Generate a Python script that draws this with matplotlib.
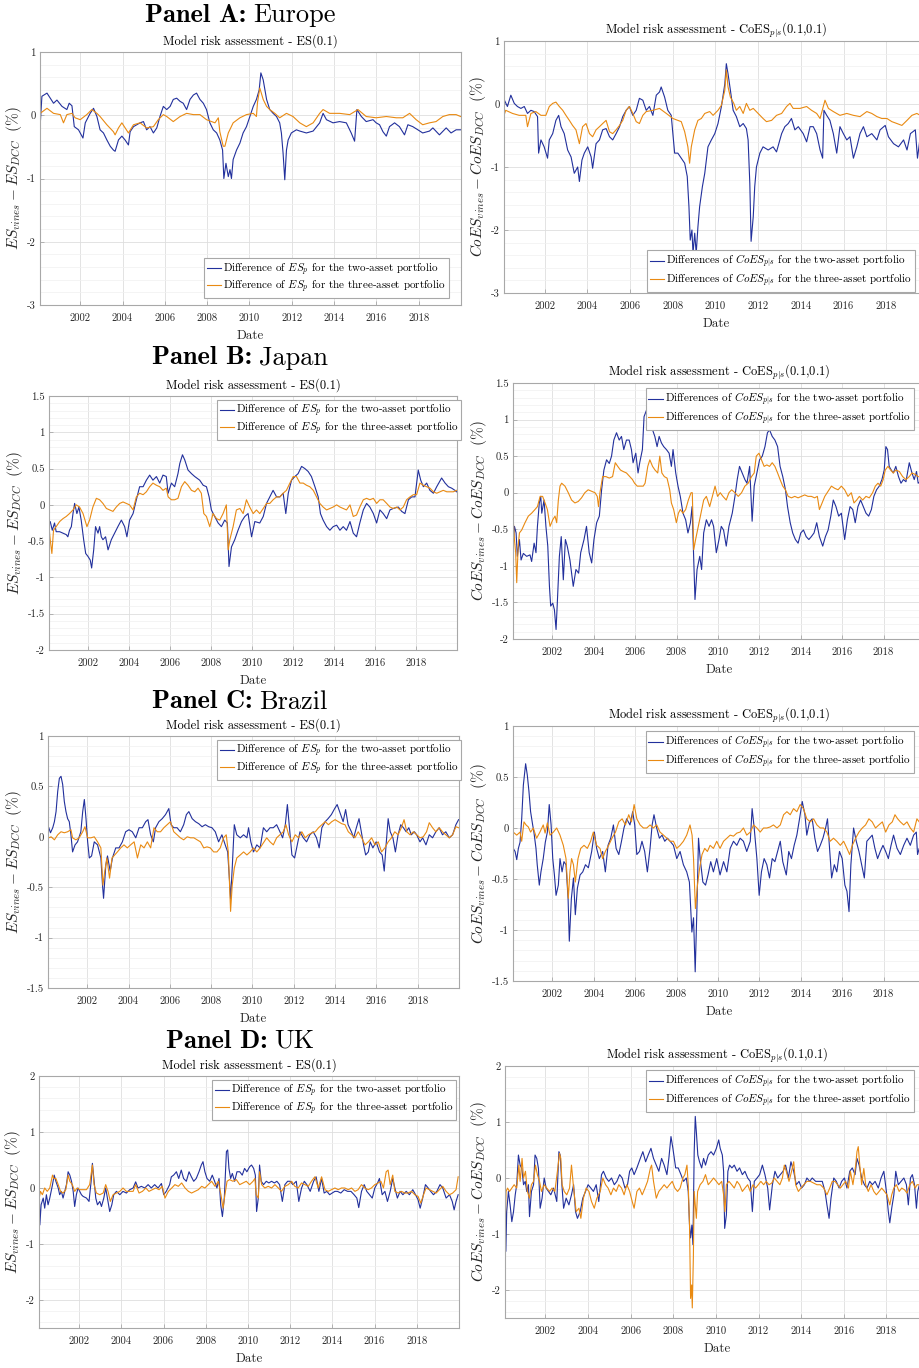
import numpy as np
import matplotlib.pyplot as plt
from matplotlib.ticker import FixedLocator, MultipleLocator, FuncFormatter

# Differences vines - DCC, (decimal year, %)
eu_es_two = [(2000.11, -0.15), (2000.19, 0.30), (2000.43, 0.35), (2000.74, 0.19), (2000.90, 0.24), (2001.14, 0.14),
             (2001.37, 0.09), (2001.48, 0.19), (2001.61, 0.15), (2001.72, -0.18), (2001.92, -0.23), (2002.13, -0.36),
             (2002.24, -0.12), (2002.47, 0.03), (2002.63, 0.11), (2002.79, -0.02), (2002.94, -0.23), (2003.10, -0.28),
             (2003.26, -0.39), (2003.42, -0.49), (2003.57, -0.55), (2003.65, -0.57), (2003.81, -0.39), (2003.97, -0.33),
             (2004.12, -0.39), (2004.28, -0.47), (2004.36, -0.26), (2004.52, -0.18), (2004.83, -0.12), (2004.99, -0.10),
             (2005.14, -0.23), (2005.30, -0.18), (2005.46, -0.28), (2005.62, -0.20), (2005.77, -0.02), (2005.93, 0.14),
             (2006.09, 0.09), (2006.25, 0.14), (2006.40, 0.25), (2006.56, 0.27), (2006.72, 0.22), (2006.87, 0.19),
             (2007.03, 0.09), (2007.19, 0.25), (2007.35, 0.32), (2007.50, 0.35), (2007.66, 0.25), (2007.82, 0.19),
             (2007.97, 0.09), (2008.13, -0.12), (2008.29, -0.23), (2008.45, -0.28), (2008.60, -0.39), (2008.73, -0.55),
             (2008.79, -1.00), (2008.89, -0.76), (2009.00, -0.97), (2009.08, -0.86), (2009.15, -1.00), (2009.23, -0.70),
             (2009.39, -0.55), (2009.55, -0.44), (2009.70, -0.28), (2009.86, -0.18), (2010.02, -0.02), (2010.18, 0.14),
             (2010.33, 0.25), (2010.46, 0.40), (2010.54, 0.67), (2010.65, 0.56), (2010.81, 0.25), (2010.96, 0.09),
             (2011.12, 0.03), (2011.28, -0.02), (2011.43, -0.12), (2011.51, -0.28), (2011.59, -0.60), (2011.67, -1.02),
             (2011.75, -0.55), (2011.83, -0.39), (2011.98, -0.28), (2012.22, -0.23), (2012.38, -0.25), (2012.69, -0.28),
             (2013.01, -0.25), (2013.32, -0.12), (2013.48, 0.03), (2013.64, -0.07), (2013.95, -0.12), (2014.26, -0.10),
             (2014.58, -0.12), (2014.81, -0.28), (2014.97, -0.41), (2015.08, 0.09), (2015.29, -0.02), (2015.52, -0.10),
             (2015.84, -0.07), (2015.99, -0.12), (2016.15, -0.15), (2016.31, -0.26), (2016.47, -0.33), (2016.62, -0.18),
             (2016.86, -0.12), (2017.09, -0.18), (2017.33, -0.31), (2017.49, -0.15), (2017.72, -0.18), (2017.96, -0.23),
             (2018.19, -0.28), (2018.51, -0.25), (2018.67, -0.20), (2018.98, -0.31), (2019.30, -0.20), (2019.53, -0.28),
             (2019.77, -0.23), (2019.98, -0.23)]
eu_es_three = [(2000.11, 0.03), (2000.43, 0.11), (2000.74, 0.03), (2001.06, 0.01), (2001.21, -0.12), (2001.37, 0.01),
               (2001.61, 0.03), (2001.76, -0.04), (2002.00, -0.07), (2002.31, 0.01), (2002.55, 0.09), (2002.79, 0.03),
               (2002.94, -0.02), (2003.26, -0.15), (2003.57, -0.26), (2003.65, -0.31), (2003.81, -0.20), (2003.97, -0.12),
               (2004.28, -0.28), (2004.52, -0.15), (2004.83, -0.12), (2005.14, -0.20), (2005.46, -0.18), (2005.69, -0.07),
               (2005.93, 0.01), (2006.09, -0.02), (2006.40, -0.10), (2006.72, -0.02), (2007.03, 0.03), (2007.35, 0.01),
               (2007.66, 0.01), (2007.97, -0.07), (2008.21, -0.10), (2008.37, -0.12), (2008.53, -0.04), (2008.60, -0.26),
               (2008.76, -0.49), (2008.84, -0.49), (2009.00, -0.28), (2009.23, -0.12), (2009.55, -0.04), (2009.86, 0.01),
               (2010.18, 0.03), (2010.33, -0.02), (2010.38, 0.20), (2010.49, 0.43), (2010.65, 0.25), (2010.81, 0.14),
               (2010.96, 0.09), (2011.20, 0.03), (2011.43, -0.04), (2011.75, 0.03), (2012.06, -0.02), (2012.38, -0.12),
               (2012.69, -0.18), (2013.01, -0.12), (2013.32, 0.03), (2013.48, 0.09), (2013.79, 0.03), (2014.26, 0.03),
               (2014.74, 0.01), (2015.13, 0.09), (2015.52, -0.02), (2015.99, -0.04), (2016.47, -0.02), (2016.94, -0.04),
               (2017.25, -0.04), (2017.57, 0.03), (2017.88, -0.07), (2018.19, -0.15), (2018.51, -0.12), (2018.82, -0.10),
               (2019.14, -0.02), (2019.45, 0.01), (2019.77, 0.01), (2019.98, -0.02)]
eu_coes_two = [(2000.08, -0.68), (2000.12, 0.06), (2000.26, -0.04), (2000.42, 0.14), (2000.58, 0.01), (2000.73, -0.04),
               (2000.89, -0.07), (2001.05, -0.04), (2001.20, -0.15), (2001.36, -0.10), (2001.51, -0.12), (2001.67, -0.20),
               (2001.72, -0.78), (2001.83, -0.57), (2001.98, -0.68), (2002.14, -0.86), (2002.22, -0.57), (2002.38, -0.47),
               (2002.53, -0.26), (2002.66, -0.18), (2002.77, -0.36), (2002.92, -0.47), (2003.08, -0.73), (2003.24, -0.84),
               (2003.39, -1.10), (2003.55, -1.00), (2003.63, -1.23), (2003.75, -0.89), (2003.86, -0.78), (2004.02, -0.68),
               (2004.18, -0.84), (2004.25, -1.02), (2004.41, -0.63), (2004.57, -0.57), (2004.72, -0.41), (2004.88, -0.39),
               (2005.04, -0.52), (2005.19, -0.57), (2005.35, -0.47), (2005.51, -0.36), (2005.66, -0.20), (2005.82, -0.10),
               (2005.97, -0.04), (2006.13, -0.18), (2006.29, -0.10), (2006.44, 0.09), (2006.60, 0.06), (2006.76, -0.10),
               (2006.91, -0.04), (2007.07, -0.18), (2007.23, 0.14), (2007.38, 0.19), (2007.46, 0.27), (2007.62, 0.11),
               (2007.77, -0.10), (2007.93, -0.18), (2008.09, -0.78), (2008.24, -0.78), (2008.40, -0.86), (2008.56, -0.94),
               (2008.68, -1.15), (2008.76, -1.63), (2008.82, -2.16), (2008.90, -2.00), (2008.95, -2.37), (2009.03, -2.05),
               (2009.10, -2.37), (2009.18, -1.95), (2009.26, -1.63), (2009.39, -1.31), (2009.50, -1.10), (2009.65, -0.68),
               (2009.81, -0.57), (2009.97, -0.47), (2010.12, -0.31), (2010.28, -0.04), (2010.44, 0.32), (2010.51, 0.64),
               (2010.59, 0.48), (2010.70, 0.22), (2010.83, -0.10), (2010.98, -0.20), (2011.14, -0.36), (2011.30, -0.31),
               (2011.45, -0.39), (2011.53, -0.57), (2011.61, -1.26), (2011.67, -2.18), (2011.77, -1.79), (2011.84, -1.31),
               (2011.92, -1.00), (2012.08, -0.78), (2012.23, -0.68), (2012.47, -0.73), (2012.70, -0.68), (2012.86, -0.76),
               (2013.10, -0.47), (2013.25, -0.36), (2013.41, -0.31), (2013.56, -0.23), (2013.72, -0.41), (2013.88, -0.36),
               (2014.11, -0.47), (2014.27, -0.60), (2014.43, -0.36), (2014.58, -0.36), (2014.74, -0.47), (2014.90, -0.73),
               (2015.02, -0.86), (2015.08, -0.10), (2015.21, -0.18), (2015.36, -0.26), (2015.52, -0.47), (2015.68, -0.78),
               (2015.83, -0.36), (2015.99, -0.47), (2016.15, -0.57), (2016.30, -0.52), (2016.46, -0.86), (2016.62, -0.68),
               (2016.77, -0.47), (2016.93, -0.36), (2017.09, -0.52), (2017.32, -0.47), (2017.56, -0.57), (2017.71, -0.41),
               (2017.95, -0.34), (2018.10, -0.52), (2018.34, -0.63), (2018.57, -0.68), (2018.81, -0.57), (2018.97, -0.73),
               (2019.13, -0.47), (2019.36, -0.41), (2019.46, -0.86), (2019.59, -0.52), (2019.98, -0.50)]
eu_coes_three = [(2000.08, -0.20), (2000.18, -0.10), (2000.50, -0.15), (2000.81, -0.18), (2001.12, -0.18), (2001.20, -0.36),
                 (2001.36, -0.15), (2001.59, -0.12), (2001.83, -0.18), (2002.06, -0.18), (2002.22, -0.04), (2002.38, 0.01),
                 (2002.53, 0.03), (2002.69, -0.04), (2002.85, -0.10), (2003.00, -0.18), (2003.16, -0.26), (2003.31, -0.34),
                 (2003.47, -0.41), (2003.63, -0.63), (2003.78, -0.36), (2003.94, -0.31), (2004.10, -0.47), (2004.25, -0.52),
                 (2004.41, -0.41), (2004.57, -0.36), (2004.72, -0.31), (2004.88, -0.26), (2005.04, -0.44), (2005.19, -0.47),
                 (2005.35, -0.41), (2005.51, -0.34), (2005.66, -0.26), (2005.82, -0.10), (2005.97, -0.04), (2006.13, -0.15),
                 (2006.29, -0.28), (2006.44, -0.31), (2006.60, -0.18), (2006.76, -0.12), (2007.07, -0.10), (2007.38, -0.07),
                 (2007.70, -0.15), (2008.01, -0.23), (2008.24, -0.26), (2008.40, -0.28), (2008.56, -0.44), (2008.71, -0.68),
                 (2008.79, -0.94), (2008.87, -0.68), (2009.03, -0.41), (2009.18, -0.26), (2009.34, -0.23), (2009.50, -0.15),
                 (2009.73, -0.12), (2009.89, -0.18), (2010.12, -0.10), (2010.28, -0.02), (2010.44, 0.22), (2010.51, 0.54),
                 (2010.59, 0.27), (2010.70, 0.11), (2010.86, 0.01), (2010.98, -0.10), (2011.14, -0.04), (2011.30, -0.15),
                 (2011.45, 0.01), (2011.61, -0.10), (2011.77, -0.07), (2012.00, -0.15), (2012.23, -0.23), (2012.39, -0.28),
                 (2012.63, -0.26), (2012.86, -0.18), (2013.10, -0.15), (2013.33, -0.04), (2013.49, 0.01), (2013.64, -0.07),
                 (2013.96, -0.07), (2014.27, -0.04), (2014.50, -0.10), (2014.74, -0.15), (2014.90, -0.23), (2015.13, 0.06),
                 (2015.29, -0.07), (2015.52, -0.12), (2015.83, -0.18), (2016.15, -0.15), (2016.46, -0.18), (2016.77, -0.20),
                 (2017.09, -0.12), (2017.32, -0.15), (2017.56, -0.20), (2017.79, -0.23), (2018.03, -0.23), (2018.26, -0.28),
                 (2018.50, -0.31), (2018.73, -0.34), (2018.97, -0.26), (2019.20, -0.18), (2019.43, -0.15), (2019.59, -0.18),
                 (2019.98, -0.15)]

jp_es_two = [(2000.10, -0.25), (2000.16, -0.23), (2000.26, -0.35), (2000.37, -0.25), (2000.45, -0.37), (2000.62, -0.37),
             (2000.78, -0.39), (2000.94, -0.41), (2001.02, -0.44), (2001.10, -0.35), (2001.19, -0.30), (2001.27, -0.12),
             (2001.35, 0.02), (2001.46, -0.12), (2001.56, -0.03), (2001.67, -0.21), (2001.79, -0.48), (2001.89, -0.67),
             (2002.00, -0.71), (2002.11, -0.76), (2002.18, -0.87), (2002.28, -0.62), (2002.37, -0.30), (2002.49, -0.39),
             (2002.57, -0.30), (2002.65, -0.44), (2002.73, -0.48), (2002.86, -0.44), (2002.98, -0.62), (2003.14, -0.48),
             (2003.30, -0.39), (2003.46, -0.30), (2003.63, -0.21), (2003.79, -0.30), (2003.90, -0.44), (2004.03, -0.21),
             (2004.20, -0.12), (2004.36, 0.07), (2004.52, 0.25), (2004.69, 0.25), (2004.85, 0.34), (2005.01, 0.41),
             (2005.17, 0.34), (2005.34, 0.39), (2005.50, 0.30), (2005.66, 0.41), (2005.82, 0.39), (2005.91, 0.16),
             (2006.07, 0.30), (2006.23, 0.25), (2006.39, 0.43), (2006.48, 0.57), (2006.61, 0.69), (2006.72, 0.62),
             (2006.88, 0.48), (2007.05, 0.43), (2007.21, 0.39), (2007.45, 0.34), (2007.62, 0.27), (2007.78, 0.25),
             (2007.91, 0.11), (2008.02, -0.07), (2008.18, -0.16), (2008.35, -0.25), (2008.51, -0.30), (2008.67, -0.21),
             (2008.80, -0.25), (2008.88, -0.85), (2009.00, -0.58), (2009.16, -0.48), (2009.32, -0.35), (2009.49, -0.23),
             (2009.65, -0.16), (2009.81, -0.12), (2009.98, -0.44), (2010.14, -0.23), (2010.38, -0.25), (2010.55, -0.16),
             (2010.71, 0.02), (2010.87, 0.11), (2011.03, 0.20), (2011.20, 0.11), (2011.36, 0.11), (2011.52, 0.16),
             (2011.65, -0.12), (2011.77, 0.16), (2011.93, 0.34), (2012.09, 0.39), (2012.25, 0.43), (2012.42, 0.53),
             (2012.58, 0.50), (2012.74, 0.46), (2012.90, 0.39), (2013.07, 0.25), (2013.23, 0.11), (2013.34, -0.12),
             (2013.47, -0.21), (2013.64, -0.30), (2013.80, -0.35), (2013.96, -0.30), (2014.13, -0.28), (2014.29, -0.35),
             (2014.45, -0.30), (2014.61, -0.35), (2014.78, -0.23), (2014.94, -0.39), (2015.10, -0.44), (2015.26, -0.25),
             (2015.43, -0.07), (2015.59, 0.02), (2015.75, -0.03), (2015.92, -0.12), (2016.08, -0.25), (2016.24, -0.07),
             (2016.40, -0.12), (2016.57, -0.19), (2016.73, -0.07), (2016.89, -0.05), (2017.14, -0.03), (2017.30, -0.09),
             (2017.46, -0.12), (2017.63, 0.07), (2017.79, 0.11), (2017.95, 0.11), (2018.11, 0.48), (2018.23, 0.34),
             (2018.36, 0.25), (2018.52, 0.30), (2018.68, 0.20), (2018.85, 0.16), (2019.01, 0.25), (2019.25, 0.37),
             (2019.42, 0.30), (2019.58, 0.25), (2019.74, 0.23), (2019.90, 0.20), (2019.98, 0.18)]
jp_es_three = [(2000.10, -0.30), (2000.16, -0.48), (2000.24, -0.67), (2000.32, -0.35), (2000.45, -0.30), (2000.62, -0.23),
               (2000.78, -0.19), (2000.94, -0.16), (2001.10, -0.12), (2001.27, -0.07), (2001.43, 0.00), (2001.59, -0.03),
               (2001.76, -0.12), (2001.95, -0.30), (2002.08, -0.21), (2002.24, -0.03), (2002.41, 0.09), (2002.57, 0.07),
               (2002.73, 0.02), (2002.90, -0.05), (2003.06, -0.07), (2003.22, -0.09), (2003.38, -0.03), (2003.55, 0.02),
               (2003.71, 0.04), (2003.87, 0.02), (2004.03, 0.00), (2004.20, -0.07), (2004.36, 0.11), (2004.52, 0.16),
               (2004.69, 0.14), (2004.85, 0.18), (2005.01, 0.25), (2005.17, 0.30), (2005.34, 0.27), (2005.50, 0.25),
               (2005.66, 0.20), (2005.82, 0.23), (2005.91, 0.11), (2006.07, 0.07), (2006.23, 0.07), (2006.39, 0.09),
               (2006.56, 0.25), (2006.72, 0.32), (2006.88, 0.27), (2007.05, 0.20), (2007.21, 0.18), (2007.37, 0.23),
               (2007.53, 0.16), (2007.65, -0.12), (2007.78, -0.16), (2007.94, -0.30), (2008.10, -0.12), (2008.27, -0.19),
               (2008.43, -0.21), (2008.59, -0.12), (2008.75, 0.00), (2008.84, -0.62), (2008.92, -0.48), (2009.08, -0.30),
               (2009.24, -0.07), (2009.41, -0.05), (2009.57, -0.12), (2009.73, 0.07), (2009.89, -0.03), (2010.06, -0.12),
               (2010.22, -0.07), (2010.38, -0.12), (2010.55, -0.05), (2010.71, 0.02), (2010.87, 0.02), (2011.03, 0.07),
               (2011.20, 0.11), (2011.36, 0.11), (2011.52, 0.16), (2011.68, 0.20), (2011.85, 0.30), (2012.01, 0.39),
               (2012.17, 0.39), (2012.34, 0.30), (2012.50, 0.30), (2012.66, 0.27), (2012.82, 0.25), (2012.99, 0.20),
               (2013.15, 0.11), (2013.31, 0.02), (2013.47, -0.03), (2013.64, -0.07), (2013.80, -0.05), (2013.96, -0.03),
               (2014.13, 0.00), (2014.29, -0.03), (2014.45, -0.05), (2014.61, -0.07), (2014.78, 0.00), (2014.94, -0.16),
               (2015.10, -0.14), (2015.26, -0.03), (2015.43, 0.07), (2015.59, 0.09), (2015.75, 0.07), (2015.92, 0.09),
               (2016.08, 0.02), (2016.24, 0.07), (2016.40, 0.07), (2016.57, 0.02), (2016.73, -0.03), (2016.89, -0.05),
               (2017.06, -0.03), (2017.22, -0.07), (2017.38, -0.03), (2017.54, 0.07), (2017.71, 0.11), (2017.87, 0.14),
               (2018.03, 0.14), (2018.19, 0.30), (2018.36, 0.27), (2018.52, 0.25), (2018.68, 0.23), (2018.85, 0.18),
               (2019.01, 0.16), (2019.17, 0.18), (2019.33, 0.20), (2019.50, 0.18), (2019.66, 0.18), (2019.82, 0.18),
               (2019.98, 0.20)]
jp_coes_two = [(2000.12, -0.64), (2000.17, -0.46), (2000.25, -0.55), (2000.31, -0.87), (2000.41, -0.64), (2000.49, -0.92),
               (2000.60, -0.83), (2000.76, -0.87), (2000.92, -0.85), (2001.00, -0.94), (2001.12, -0.69), (2001.21, -0.82),
               (2001.28, -0.46), (2001.37, -0.14), (2001.44, -0.05), (2001.49, -0.28), (2001.60, -0.10), (2001.69, -0.46),
               (2001.78, -0.73), (2001.86, -1.28), (2001.92, -1.55), (2002.02, -1.51), (2002.10, -1.60), (2002.18, -1.87),
               (2002.24, -1.51), (2002.34, -0.87), (2002.43, -0.60), (2002.53, -1.19), (2002.63, -0.64), (2002.72, -0.73),
               (2002.85, -0.92), (2003.01, -1.28), (2003.14, -1.05), (2003.27, -1.10), (2003.37, -0.82), (2003.53, -0.64),
               (2003.65, -0.46), (2003.78, -0.82), (2003.90, -0.96), (2004.01, -0.64), (2004.14, -0.41), (2004.27, -0.32),
               (2004.38, 0.04), (2004.49, 0.31), (2004.62, 0.45), (2004.75, 0.40), (2004.86, 0.50), (2004.97, 0.72),
               (2005.10, 0.82), (2005.23, 0.72), (2005.34, 0.77), (2005.45, 0.59), (2005.58, 0.72), (2005.71, 0.72),
               (2005.82, 0.59), (2005.90, 0.41), (2006.03, 0.54), (2006.14, 0.27), (2006.22, 0.41), (2006.35, 0.59),
               (2006.43, 1.04), (2006.55, 1.13), (2006.64, 1.27), (2006.74, 1.18), (2006.84, 0.86), (2006.95, 0.77),
               (2007.06, 0.63), (2007.16, 0.77), (2007.27, 0.68), (2007.38, 0.63), (2007.51, 0.59), (2007.64, 0.54),
               (2007.75, 0.36), (2007.83, 0.59), (2007.96, 0.27), (2008.07, 0.09), (2008.18, -0.05), (2008.31, -0.28),
               (2008.44, -0.37), (2008.55, -0.55), (2008.67, -0.41), (2008.75, -0.19), (2008.83, -0.92), (2008.89, -1.46),
               (2008.99, -1.05), (2009.12, -0.87), (2009.21, -1.05), (2009.31, -0.55), (2009.44, -0.37), (2009.57, -0.46),
               (2009.69, -0.37), (2009.79, -0.46), (2009.92, -0.82), (2010.05, -0.64), (2010.16, -0.46), (2010.27, -0.51),
               (2010.40, -0.73), (2010.53, -0.46), (2010.69, -0.28), (2010.82, -0.05), (2010.93, 0.18), (2011.04, 0.36),
               (2011.17, 0.27), (2011.30, 0.18), (2011.40, 0.13), (2011.53, 0.36), (2011.65, -0.39), (2011.75, 0.09),
               (2011.88, 0.27), (2012.01, 0.45), (2012.14, 0.50), (2012.27, 0.63), (2012.39, 0.82), (2012.49, 0.86),
               (2012.62, 0.77), (2012.75, 0.72), (2012.88, 0.63), (2013.00, 0.36), (2013.13, 0.22), (2013.26, 0.04),
               (2013.36, -0.19), (2013.49, -0.41), (2013.61, -0.55), (2013.74, -0.64), (2013.87, -0.69), (2014.00, -0.55),
               (2014.13, -0.51), (2014.26, -0.60), (2014.39, -0.64), (2014.51, -0.60), (2014.64, -0.55), (2014.77, -0.41),
               (2014.90, -0.60), (2015.06, -0.73), (2015.19, -0.60), (2015.32, -0.51), (2015.45, -0.32), (2015.57, -0.10),
               (2015.70, -0.19), (2015.83, -0.32), (2015.96, -0.28), (2016.12, -0.64), (2016.25, -0.37), (2016.38, -0.19),
               (2016.51, -0.23), (2016.63, -0.41), (2016.76, -0.19), (2016.89, -0.10), (2017.02, -0.19), (2017.15, -0.28),
               (2017.28, -0.32), (2017.41, -0.23), (2017.53, -0.05), (2017.66, 0.04), (2017.79, 0.09), (2017.92, 0.18),
               (2018.03, 0.31), (2018.11, 0.63), (2018.19, 0.59), (2018.27, 0.36), (2018.37, 0.31), (2018.47, 0.27),
               (2018.59, 0.36), (2018.72, 0.22), (2018.84, 0.13), (2018.96, 0.18), (2019.08, 0.15), (2019.24, 0.41),
               (2019.37, 0.27), (2019.48, 0.18), (2019.59, 0.29), (2019.67, 0.13), (2019.98, 0.20)]
jp_coes_three = [(2000.12, -0.41), (2000.17, -0.64), (2000.23, -0.82), (2000.28, -1.23), (2000.35, -0.73), (2000.41, -0.55),
                 (2000.52, -0.51), (2000.68, -0.41), (2000.84, -0.32), (2001.00, -0.28), (2001.16, -0.23), (2001.28, -0.19),
                 (2001.41, -0.05), (2001.53, -0.05), (2001.65, -0.14), (2001.76, -0.23), (2001.89, -0.46), (2002.02, -0.37),
                 (2002.13, -0.32), (2002.21, -0.41), (2002.29, -0.10), (2002.37, 0.09), (2002.45, 0.13), (2002.61, 0.09),
                 (2002.77, 0.00), (2002.93, -0.10), (2003.09, -0.14), (2003.25, -0.12), (2003.41, -0.07), (2003.57, 0.00),
                 (2003.73, 0.04), (2003.90, 0.02), (2004.06, 0.00), (2004.17, -0.05), (2004.23, -0.19), (2004.30, 0.00),
                 (2004.43, 0.22), (2004.59, 0.22), (2004.75, 0.20), (2004.91, 0.22), (2005.04, 0.41), (2005.16, 0.36),
                 (2005.29, 0.31), (2005.42, 0.29), (2005.58, 0.27), (2005.74, 0.22), (2005.87, 0.18), (2005.97, 0.13),
                 (2006.10, 0.09), (2006.22, 0.09), (2006.39, 0.09), (2006.48, 0.13), (2006.61, 0.36), (2006.71, 0.45),
                 (2006.84, 0.36), (2006.96, 0.31), (2007.09, 0.27), (2007.19, 0.50), (2007.29, 0.27), (2007.41, 0.22),
                 (2007.54, 0.20), (2007.67, 0.04), (2007.75, -0.14), (2007.86, -0.23), (2007.99, -0.41), (2008.09, -0.28),
                 (2008.18, -0.23), (2008.31, -0.28), (2008.44, -0.23), (2008.57, -0.10), (2008.70, 0.00), (2008.76, 0.00),
                 (2008.83, -0.78), (2008.92, -0.64), (2009.05, -0.46), (2009.18, -0.28), (2009.31, -0.10), (2009.44, -0.05),
                 (2009.60, -0.19), (2009.73, -0.05), (2009.86, 0.09), (2009.98, -0.05), (2010.11, 0.00), (2010.24, -0.05),
                 (2010.40, -0.10), (2010.53, 0.00), (2010.66, 0.04), (2010.82, 0.00), (2010.98, -0.05), (2011.14, 0.00),
                 (2011.30, 0.09), (2011.46, 0.13), (2011.62, 0.22), (2011.75, 0.27), (2011.85, 0.50), (2011.98, 0.54),
                 (2012.10, 0.45), (2012.23, 0.36), (2012.36, 0.38), (2012.49, 0.36), (2012.62, 0.41), (2012.75, 0.36),
                 (2012.88, 0.27), (2013.00, 0.18), (2013.13, 0.09), (2013.26, 0.04), (2013.39, -0.05), (2013.55, -0.07),
                 (2013.71, -0.05), (2013.87, -0.07), (2014.03, -0.05), (2014.19, -0.03), (2014.35, -0.05), (2014.51, -0.05),
                 (2014.67, -0.07), (2014.80, -0.05), (2014.90, -0.23), (2015.03, -0.14), (2015.16, -0.05), (2015.32, 0.02),
                 (2015.48, 0.09), (2015.64, 0.06), (2015.80, 0.04), (2015.96, 0.09), (2016.12, 0.04), (2016.28, -0.05),
                 (2016.44, 0.00), (2016.57, -0.14), (2016.70, -0.10), (2016.83, -0.05), (2016.99, -0.10), (2017.15, -0.05),
                 (2017.31, -0.07), (2017.47, 0.00), (2017.60, 0.09), (2017.73, 0.13), (2017.86, 0.09), (2017.98, 0.18),
                 (2018.08, 0.31), (2018.21, 0.36), (2018.34, 0.31), (2018.47, 0.27), (2018.59, 0.31), (2018.76, 0.29),
                 (2018.92, 0.22), (2019.08, 0.18), (2019.24, 0.22), (2019.37, 0.27), (2019.53, 0.25), (2019.67, 0.22),
                 (2019.98, 0.20)]

br_es_two = [(2000.14, 0.09), (2000.22, 0.04), (2000.33, 0.09), (2000.41, 0.15), (2000.49, 0.25), (2000.57, 0.45),
             (2000.65, 0.58), (2000.73, 0.60), (2000.81, 0.52), (2000.89, 0.35), (2000.97, 0.25), (2001.05, 0.18),
             (2001.13, 0.15), (2001.21, 0.02), (2001.29, -0.15), (2001.41, -0.08), (2001.53, -0.05), (2001.69, 0.05),
             (2001.78, 0.25), (2001.86, 0.37), (2001.94, 0.18), (2002.02, -0.05), (2002.10, -0.21), (2002.21, -0.19),
             (2002.34, -0.05), (2002.50, -0.08), (2002.66, -0.21), (2002.74, -0.48), (2002.79, -0.61), (2002.90, -0.28),
             (2002.98, -0.19), (2003.11, -0.34), (2003.22, -0.21), (2003.38, -0.11), (2003.54, -0.11), (2003.70, -0.05),
             (2003.86, 0.05), (2004.02, 0.07), (2004.18, 0.05), (2004.35, -0.01), (2004.51, 0.09), (2004.67, 0.09),
             (2004.83, 0.15), (2004.94, 0.17), (2005.07, 0.02), (2005.20, -0.05), (2005.31, 0.09), (2005.47, 0.15),
             (2005.63, 0.18), (2005.79, 0.22), (2005.95, 0.28), (2006.06, 0.12), (2006.19, 0.09), (2006.35, 0.09),
             (2006.51, 0.05), (2006.67, 0.12), (2006.80, 0.22), (2006.92, 0.25), (2007.08, 0.18), (2007.24, 0.15),
             (2007.40, 0.13), (2007.56, 0.10), (2007.72, 0.12), (2007.88, 0.10), (2008.04, 0.09), (2008.20, 0.05),
             (2008.36, -0.05), (2008.52, 0.02), (2008.68, -0.08), (2008.80, -0.15), (2008.89, -0.44), (2008.94, -0.62),
             (2009.02, -0.31), (2009.12, 0.12), (2009.24, 0.02), (2009.41, -0.01), (2009.57, 0.02), (2009.73, -0.01),
             (2009.81, 0.09), (2009.92, -0.05), (2010.05, -0.15), (2010.21, -0.08), (2010.37, -0.11), (2010.53, 0.09),
             (2010.69, 0.05), (2010.85, 0.09), (2011.01, 0.09), (2011.17, 0.12), (2011.33, 0.05), (2011.46, -0.01),
             (2011.59, 0.12), (2011.69, 0.32), (2011.78, 0.12), (2011.91, -0.18), (2012.04, -0.21), (2012.17, -0.08),
             (2012.30, 0.05), (2012.46, -0.01), (2012.62, -0.05), (2012.78, 0.02), (2012.94, 0.05), (2013.10, -0.01),
             (2013.23, -0.11), (2013.36, 0.09), (2013.52, 0.15), (2013.66, 0.18), (2013.82, 0.22), (2013.98, 0.28),
             (2014.10, 0.32), (2014.22, 0.25), (2014.39, 0.15), (2014.51, 0.27), (2014.63, 0.12), (2014.79, 0.05),
             (2014.90, -0.01), (2015.03, 0.09), (2015.16, 0.18), (2015.27, 0.05), (2015.38, -0.08), (2015.48, -0.18),
             (2015.61, -0.15), (2015.70, -0.05), (2015.83, -0.11), (2015.99, -0.05), (2016.15, -0.15), (2016.28, -0.18),
             (2016.38, -0.34), (2016.47, -0.08), (2016.57, 0.18), (2016.67, 0.05), (2016.80, -0.01), (2016.92, -0.15),
             (2017.05, 0.02), (2017.18, 0.12), (2017.31, 0.09), (2017.44, 0.05), (2017.57, 0.09), (2017.69, 0.02),
             (2017.84, 0.05), (2017.95, 0.02), (2018.11, -0.05), (2018.24, -0.01), (2018.40, -0.08), (2018.56, 0.02),
             (2018.72, -0.01), (2018.88, 0.05), (2019.04, 0.09), (2019.20, 0.02), (2019.36, 0.05), (2019.53, -0.01),
             (2019.69, 0.02), (2019.85, 0.12), (2019.98, 0.17)]
br_es_three = [(2000.14, -0.01), (2000.25, 0.00), (2000.41, -0.03), (2000.57, 0.02), (2000.73, 0.05), (2000.89, 0.04),
               (2001.05, 0.05), (2001.21, 0.07), (2001.29, -0.01), (2001.45, -0.03), (2001.61, -0.01), (2001.78, 0.05),
               (2001.89, 0.10), (2002.02, -0.01), (2002.18, -0.01), (2002.34, 0.00), (2002.50, -0.05), (2002.66, -0.11),
               (2002.76, -0.48), (2002.85, -0.34), (2002.95, -0.21), (2003.08, -0.41), (2003.20, -0.21), (2003.33, -0.18),
               (2003.46, -0.15), (2003.62, -0.11), (2003.78, -0.08), (2003.94, -0.11), (2004.10, -0.08), (2004.27, -0.05),
               (2004.43, -0.21), (2004.59, -0.08), (2004.75, -0.11), (2004.91, -0.05), (2005.07, -0.11), (2005.23, 0.09),
               (2005.39, 0.05), (2005.55, 0.05), (2005.71, 0.09), (2005.87, 0.12), (2006.03, 0.15), (2006.19, 0.05),
               (2006.35, 0.02), (2006.51, -0.01), (2006.67, -0.03), (2006.84, 0.00), (2007.00, -0.01), (2007.16, -0.01),
               (2007.32, -0.03), (2007.48, -0.05), (2007.64, -0.11), (2007.80, -0.10), (2007.96, -0.11), (2008.12, -0.15),
               (2008.28, -0.15), (2008.44, -0.11), (2008.60, -0.01), (2008.73, 0.02), (2008.83, -0.15), (2008.89, -0.48),
               (2008.94, -0.74), (2009.02, -0.48), (2009.12, -0.31), (2009.24, -0.21), (2009.41, -0.18), (2009.57, -0.15),
               (2009.73, -0.18), (2009.89, -0.15), (2010.05, -0.11), (2010.21, -0.15), (2010.37, -0.11), (2010.53, -0.06),
               (2010.69, -0.01), (2010.85, -0.05), (2011.01, -0.08), (2011.17, -0.01), (2011.33, 0.02), (2011.49, 0.05),
               (2011.62, 0.12), (2011.75, 0.02), (2011.91, -0.05), (2012.07, 0.02), (2012.23, -0.01), (2012.39, 0.05),
               (2012.55, -0.01), (2012.71, 0.02), (2012.88, 0.04), (2013.04, 0.05), (2013.20, 0.09), (2013.36, 0.12),
               (2013.52, 0.15), (2013.68, 0.12), (2013.84, 0.15), (2014.00, 0.17), (2014.16, 0.15), (2014.32, 0.13),
               (2014.48, 0.12), (2014.64, 0.05), (2014.80, 0.02), (2014.96, -0.01), (2015.12, 0.05), (2015.29, -0.01),
               (2015.45, -0.08), (2015.61, -0.05), (2015.77, -0.01), (2015.93, -0.08), (2016.09, -0.05), (2016.25, -0.15),
               (2016.41, -0.11), (2016.57, -0.05), (2016.73, -0.01), (2016.89, 0.05), (2017.05, 0.02), (2017.21, 0.09),
               (2017.34, 0.17), (2017.47, 0.05), (2017.63, 0.02), (2017.79, 0.05), (2017.95, 0.02), (2018.11, -0.01),
               (2018.27, 0.00), (2018.43, 0.05), (2018.56, 0.14), (2018.72, 0.09), (2018.88, 0.05), (2019.04, 0.09),
               (2019.20, 0.05), (2019.36, 0.02), (2019.53, -0.01), (2019.69, 0.02), (2019.85, 0.10), (2019.98, 0.09)]
br_coes_two = [(2000.11, -0.20), (2000.20, -0.23), (2000.28, -0.31), (2000.36, -0.20), (2000.44, -0.14), (2000.52, 0.09),
               (2000.60, 0.42), (2000.71, 0.63), (2000.79, 0.52), (2000.87, 0.36), (2000.95, 0.16), (2001.05, 0.03),
               (2001.11, -0.04), (2001.21, -0.20), (2001.27, -0.36), (2001.37, -0.56), (2001.45, -0.43), (2001.56, -0.30),
               (2001.66, -0.14), (2001.76, -0.04), (2001.85, 0.23), (2001.94, 0.03), (2002.02, -0.30), (2002.10, -0.46),
               (2002.18, -0.66), (2002.29, -0.56), (2002.37, -0.30), (2002.47, -0.43), (2002.56, -0.33), (2002.66, -0.36),
               (2002.76, -0.69), (2002.82, -1.11), (2002.92, -0.69), (2003.02, -0.49), (2003.11, -0.85), (2003.21, -0.59),
               (2003.34, -0.46), (2003.47, -0.43), (2003.60, -0.36), (2003.74, -0.39), (2003.90, -0.23), (2004.03, -0.04),
               (2004.14, -0.20), (2004.27, -0.30), (2004.43, -0.23), (2004.56, -0.43), (2004.69, -0.17), (2004.82, -0.10),
               (2004.95, 0.03), (2005.08, -0.20), (2005.21, -0.26), (2005.34, -0.13), (2005.46, 0.00), (2005.59, 0.09),
               (2005.75, 0.03), (2005.88, 0.16), (2005.98, 0.03), (2006.08, -0.26), (2006.21, -0.23), (2006.33, -0.13),
               (2006.46, -0.23), (2006.59, -0.43), (2006.72, -0.20), (2006.82, 0.03), (2006.91, 0.13), (2007.04, 0.00),
               (2007.17, -0.10), (2007.30, -0.07), (2007.43, -0.13), (2007.56, -0.10), (2007.69, -0.13), (2007.85, -0.17),
               (2008.01, -0.30), (2008.17, -0.23), (2008.33, -0.36), (2008.49, -0.43), (2008.62, -0.53), (2008.74, -1.02),
               (2008.82, -0.88), (2008.90, -1.41), (2008.98, -0.82), (2009.06, -0.10), (2009.14, -0.30), (2009.27, -0.53),
               (2009.40, -0.56), (2009.52, -0.46), (2009.65, -0.33), (2009.78, -0.43), (2009.94, -0.30), (2010.10, -0.46),
               (2010.27, -0.33), (2010.43, -0.43), (2010.59, -0.20), (2010.75, -0.13), (2010.91, -0.17), (2011.07, -0.10),
               (2011.23, -0.13), (2011.39, -0.23), (2011.56, -0.13), (2011.65, 0.19), (2011.75, 0.00), (2011.88, -0.30),
               (2011.99, -0.66), (2012.10, -0.43), (2012.23, -0.30), (2012.36, -0.36), (2012.49, -0.49), (2012.62, -0.30),
               (2012.75, -0.33), (2012.88, -0.23), (2013.01, -0.13), (2013.13, -0.33), (2013.30, -0.46), (2013.42, -0.23),
               (2013.55, -0.30), (2013.68, -0.17), (2013.81, -0.07), (2013.94, 0.09), (2014.07, 0.26), (2014.20, 0.13),
               (2014.29, -0.07), (2014.42, 0.06), (2014.55, 0.09), (2014.68, -0.10), (2014.81, -0.23), (2014.94, -0.17),
               (2015.07, -0.10), (2015.20, 0.00), (2015.29, 0.09), (2015.39, -0.20), (2015.49, -0.49), (2015.62, -0.36),
               (2015.74, -0.43), (2015.87, -0.23), (2016.00, -0.30), (2016.13, -0.56), (2016.23, -0.62), (2016.33, -0.82),
               (2016.42, -0.36), (2016.55, 0.00), (2016.68, -0.13), (2016.81, -0.23), (2016.94, -0.36), (2017.07, -0.49),
               (2017.19, -0.13), (2017.32, -0.10), (2017.45, -0.07), (2017.58, -0.20), (2017.71, -0.30), (2017.84, -0.23),
               (2017.97, -0.17), (2018.10, -0.23), (2018.23, -0.30), (2018.36, -0.17), (2018.48, -0.07), (2018.65, -0.20),
               (2018.81, -0.26), (2018.97, -0.17), (2019.13, -0.10), (2019.29, -0.17), (2019.45, -0.07), (2019.58, -0.04),
               (2019.64, -0.26), (2019.72, -0.20), (2019.98, -0.15)]
br_coes_three = [(2000.11, -0.04), (2000.28, -0.07), (2000.44, -0.04), (2000.52, -0.13), (2000.63, 0.06), (2000.73, 0.03),
                 (2000.84, 0.01), (2000.95, -0.04), (2001.08, 0.00), (2001.24, -0.10), (2001.40, -0.04), (2001.56, 0.03),
                 (2001.65, -0.05), (2001.76, 0.05), (2001.89, -0.07), (2002.05, -0.04), (2002.21, 0.00), (2002.37, -0.07),
                 (2002.53, -0.17), (2002.66, -0.30), (2002.77, -0.69), (2002.85, -0.43), (2002.93, -0.30), (2003.02, -0.36),
                 (2003.11, -0.53), (2003.24, -0.30), (2003.37, -0.20), (2003.53, -0.17), (2003.69, -0.20), (2003.85, -0.13),
                 (2003.98, -0.04), (2004.14, -0.17), (2004.30, -0.20), (2004.43, -0.30), (2004.56, -0.23), (2004.72, -0.17),
                 (2004.88, -0.10), (2005.05, -0.04), (2005.21, 0.06), (2005.37, 0.09), (2005.53, 0.03), (2005.69, 0.13),
                 (2005.82, 0.06), (2005.95, 0.23), (2006.08, 0.09), (2006.24, 0.03), (2006.40, 0.00), (2006.56, 0.00),
                 (2006.72, 0.03), (2006.88, 0.00), (2007.04, 0.03), (2007.20, -0.04), (2007.37, -0.07), (2007.53, -0.10),
                 (2007.69, -0.13), (2007.85, -0.13), (2008.01, -0.20), (2008.17, -0.17), (2008.33, -0.13), (2008.49, -0.07),
                 (2008.65, 0.03), (2008.75, -0.07), (2008.82, -0.30), (2008.91, -0.79), (2009.01, -0.56), (2009.11, -0.40),
                 (2009.23, -0.26), (2009.36, -0.20), (2009.49, -0.23), (2009.62, -0.17), (2009.78, -0.20), (2009.94, -0.13),
                 (2010.10, -0.20), (2010.27, -0.13), (2010.43, -0.10), (2010.59, -0.07), (2010.75, -0.08), (2010.91, -0.05),
                 (2011.07, -0.04), (2011.23, 0.00), (2011.39, -0.07), (2011.56, -0.04), (2011.72, 0.03), (2011.88, 0.00),
                 (2012.04, -0.04), (2012.20, 0.00), (2012.36, 0.00), (2012.52, 0.01), (2012.68, 0.03), (2012.85, 0.00),
                 (2013.01, 0.03), (2013.17, 0.13), (2013.33, 0.16), (2013.49, 0.13), (2013.65, 0.19), (2013.81, 0.16),
                 (2013.97, 0.23), (2014.13, 0.19), (2014.29, 0.09), (2014.46, 0.06), (2014.62, 0.09), (2014.78, 0.03),
                 (2014.94, 0.00), (2015.10, 0.00), (2015.26, -0.04), (2015.42, -0.13), (2015.58, -0.10), (2015.74, -0.13),
                 (2015.91, -0.17), (2016.07, -0.13), (2016.23, -0.20), (2016.36, -0.26), (2016.49, -0.17), (2016.65, -0.10),
                 (2016.81, -0.04), (2016.97, 0.00), (2017.13, 0.03), (2017.29, 0.09), (2017.45, 0.06), (2017.61, 0.00),
                 (2017.77, 0.03), (2017.94, 0.06), (2018.10, -0.04), (2018.26, 0.03), (2018.42, 0.06), (2018.55, 0.13),
                 (2018.68, 0.09), (2018.81, 0.06), (2018.97, 0.03), (2019.13, 0.06), (2019.29, 0.00), (2019.45, -0.04),
                 (2019.61, 0.09), (2019.72, 0.06), (2019.98, 0.03)]

uk_es_two = [(2000.11, 0.06), (2000.14, -0.66), (2000.20, -0.30), (2000.30, -0.18), (2000.37, -0.36), (2000.45, -0.12),
             (2000.53, -0.30), (2000.61, -0.18), (2000.74, 0.06), (2000.82, 0.23), (2000.90, 0.12), (2001.01, 0.00),
             (2001.08, -0.12), (2001.16, -0.06), (2001.24, -0.18), (2001.32, -0.06), (2001.40, 0.06), (2001.48, 0.29),
             (2001.56, 0.23), (2001.64, 0.12), (2001.72, -0.06), (2001.79, -0.33), (2001.87, -0.12), (2001.95, 0.00),
             (2002.03, -0.06), (2002.11, -0.12), (2002.19, -0.15), (2002.35, -0.18), (2002.47, -0.24), (2002.57, 0.12),
             (2002.63, 0.44), (2002.71, 0.12), (2002.79, -0.18), (2002.87, -0.30), (2002.98, -0.24), (2003.06, -0.33),
             (2003.17, -0.18), (2003.26, 0.00), (2003.37, -0.24), (2003.45, -0.42), (2003.55, -0.30), (2003.64, -0.12),
             (2003.77, -0.06), (2003.93, -0.12), (2004.08, -0.06), (2004.24, -0.09), (2004.40, -0.03), (2004.56, 0.00),
             (2004.68, 0.11), (2004.79, 0.00), (2004.95, 0.03), (2005.11, 0.00), (2005.27, 0.06), (2005.42, 0.00),
             (2005.58, 0.06), (2005.74, 0.00), (2005.90, 0.08), (2006.01, -0.12), (2006.13, -0.06), (2006.29, 0.06),
             (2006.37, 0.20), (2006.48, 0.23), (2006.61, 0.29), (2006.72, 0.17), (2006.84, 0.32), (2006.95, 0.17),
             (2007.08, 0.12), (2007.21, 0.29), (2007.32, 0.20), (2007.43, 0.12), (2007.55, 0.17), (2007.68, 0.29),
             (2007.79, 0.41), (2007.87, 0.47), (2007.96, 0.29), (2008.06, 0.17), (2008.19, 0.12), (2008.31, 0.23),
             (2008.42, 0.12), (2008.53, 0.00), (2008.63, 0.17), (2008.71, -0.30), (2008.79, -0.51), (2008.88, -0.18),
             (2008.98, 0.65), (2009.04, 0.68), (2009.10, 0.35), (2009.18, 0.17), (2009.26, 0.26), (2009.37, 0.12),
             (2009.48, 0.29), (2009.61, 0.29), (2009.73, 0.23), (2009.84, 0.35), (2009.95, 0.29), (2010.08, 0.38),
             (2010.17, 0.41), (2010.27, 0.35), (2010.35, 0.23), (2010.41, -0.42), (2010.49, -0.18), (2010.55, 0.41),
             (2010.63, 0.12), (2010.74, 0.06), (2010.87, 0.12), (2010.99, 0.09), (2011.12, 0.12), (2011.25, 0.09),
             (2011.37, 0.12), (2011.50, 0.06), (2011.63, -0.24), (2011.75, 0.06), (2011.88, 0.12), (2012.00, 0.12),
             (2012.13, 0.06), (2012.29, 0.12), (2012.41, -0.24), (2012.54, 0.00), (2012.67, 0.12), (2012.79, 0.06),
             (2012.95, -0.06), (2013.11, 0.12), (2013.23, 0.20), (2013.36, -0.06), (2013.49, 0.17), (2013.61, -0.09),
             (2013.74, -0.06), (2013.87, -0.12), (2013.99, -0.09), (2014.12, -0.06), (2014.24, -0.06), (2014.40, -0.09),
             (2014.56, -0.03), (2014.72, -0.06), (2014.88, -0.06), (2015.03, -0.12), (2015.16, -0.18), (2015.25, -0.35),
             (2015.38, -0.06), (2015.51, 0.06), (2015.63, -0.06), (2015.76, -0.12), (2015.89, -0.18), (2016.01, 0.00),
             (2016.14, 0.09), (2016.23, 0.17), (2016.36, -0.12), (2016.49, -0.06), (2016.61, -0.24), (2016.74, -0.06),
             (2016.86, 0.17), (2016.96, 0.00), (2017.08, -0.18), (2017.21, -0.06), (2017.34, -0.12), (2017.50, -0.06),
             (2017.65, -0.12), (2017.81, -0.03), (2017.94, -0.12), (2018.06, -0.21), (2018.16, -0.36), (2018.28, -0.18),
             (2018.41, 0.06), (2018.54, 0.00), (2018.66, -0.06), (2018.79, -0.12), (2018.95, -0.06), (2019.10, 0.06),
             (2019.23, 0.00), (2019.39, -0.18), (2019.55, -0.12), (2019.68, -0.24), (2019.77, -0.39), (2019.86, -0.24),
             (2019.96, -0.12)]
uk_es_three = [(2000.11, -0.18), (2000.17, -0.06), (2000.26, -0.12), (2000.37, 0.00), (2000.49, -0.06), (2000.61, 0.00),
               (2000.74, 0.23), (2000.80, 0.17), (2000.90, 0.17), (2001.01, 0.06), (2001.12, -0.06), (2001.24, -0.09),
               (2001.37, -0.03), (2001.48, 0.23), (2001.56, 0.12), (2001.68, 0.06), (2001.79, -0.06), (2001.91, 0.00),
               (2002.03, -0.03), (2002.19, -0.03), (2002.35, -0.03), (2002.50, 0.06), (2002.63, 0.41), (2002.71, 0.06),
               (2002.82, -0.09), (2002.98, -0.12), (2003.14, -0.09), (2003.26, 0.06), (2003.37, -0.06), (2003.48, -0.24),
               (2003.61, -0.12), (2003.77, -0.09), (2003.93, -0.06), (2004.08, 0.00), (2004.24, -0.06), (2004.40, -0.06),
               (2004.56, -0.06), (2004.68, 0.06), (2004.84, -0.09), (2005.00, -0.06), (2005.16, 0.00), (2005.31, -0.06),
               (2005.47, -0.03), (2005.63, 0.00), (2005.79, -0.03), (2005.94, 0.03), (2006.07, -0.18), (2006.23, -0.06),
               (2006.39, 0.00), (2006.54, 0.06), (2006.70, 0.03), (2006.86, 0.09), (2007.02, 0.00), (2007.18, -0.06),
               (2007.33, -0.09), (2007.49, -0.06), (2007.65, -0.03), (2007.81, 0.03), (2007.96, 0.00), (2008.12, 0.06),
               (2008.28, 0.12), (2008.44, 0.03), (2008.60, 0.12), (2008.72, -0.12), (2008.82, -0.36), (2008.91, -0.12),
               (2009.01, 0.12), (2009.13, 0.15), (2009.29, 0.12), (2009.45, 0.15), (2009.61, 0.06), (2009.76, 0.09),
               (2009.92, 0.12), (2010.08, 0.06), (2010.24, 0.12), (2010.33, 0.17), (2010.39, -0.12), (2010.49, -0.18),
               (2010.55, 0.29), (2010.65, 0.06), (2010.80, 0.00), (2010.96, 0.03), (2011.12, 0.00), (2011.28, 0.06),
               (2011.44, 0.00), (2011.59, -0.06), (2011.75, 0.03), (2011.91, 0.06), (2012.07, 0.12), (2012.22, 0.03),
               (2012.38, 0.00), (2012.54, 0.09), (2012.70, 0.06), (2012.86, 0.03), (2013.01, 0.12), (2013.17, 0.20),
               (2013.33, 0.00), (2013.49, 0.20), (2013.65, -0.03), (2013.80, -0.06), (2013.96, -0.03), (2014.12, 0.00),
               (2014.28, -0.03), (2014.43, 0.00), (2014.59, 0.00), (2014.75, -0.03), (2014.91, 0.00), (2015.07, -0.06),
               (2015.22, -0.03), (2015.38, 0.06), (2015.54, 0.00), (2015.70, -0.03), (2015.85, 0.00), (2016.01, 0.06),
               (2016.17, 0.09), (2016.30, 0.12), (2016.42, 0.00), (2016.55, 0.29), (2016.64, 0.32), (2016.74, 0.06),
               (2016.86, 0.23), (2016.96, -0.06), (2017.12, -0.09), (2017.27, -0.06), (2017.43, -0.09), (2017.59, -0.09),
               (2017.75, -0.06), (2017.91, -0.12), (2018.06, -0.15), (2018.19, -0.27), (2018.32, -0.12), (2018.44, 0.00),
               (2018.60, -0.03), (2018.76, -0.06), (2018.92, -0.09), (2019.07, -0.03), (2019.23, 0.03), (2019.39, -0.06),
               (2019.55, -0.12), (2019.70, -0.09), (2019.86, -0.03), (2019.96, 0.20)]
uk_coes_two = [(2000.11, 0.12), (2000.14, -1.31), (2000.18, -0.60), (2000.26, -0.24), (2000.34, -0.48), (2000.42, -0.78),
               (2000.50, -0.60), (2000.58, -0.30), (2000.65, -0.12), (2000.73, 0.41), (2000.81, 0.23), (2000.89, 0.17),
               (2000.97, -0.12), (2001.05, -0.06), (2001.12, -0.24), (2001.20, -0.12), (2001.25, -0.69), (2001.34, -0.24),
               (2001.44, -0.12), (2001.51, 0.41), (2001.59, 0.35), (2001.67, 0.17), (2001.75, -0.54), (2001.84, -0.36),
               (2001.94, 0.00), (2002.03, -0.18), (2002.14, -0.24), (2002.25, -0.30), (2002.38, -0.18), (2002.53, -0.42),
               (2002.63, 0.47), (2002.69, 0.41), (2002.77, -0.12), (2002.85, -0.54), (2002.97, -0.36), (2003.10, -0.48),
               (2003.22, -0.30), (2003.32, -0.12), (2003.41, -0.60), (2003.50, -0.72), (2003.63, -0.60), (2003.75, -0.36),
               (2003.88, -0.24), (2004.00, -0.12), (2004.13, -0.18), (2004.25, -0.24), (2004.38, -0.12), (2004.50, -0.42),
               (2004.63, 0.06), (2004.72, 0.12), (2004.85, 0.00), (2004.97, -0.06), (2005.10, 0.00), (2005.23, -0.12),
               (2005.35, -0.06), (2005.48, 0.06), (2005.60, 0.00), (2005.73, -0.18), (2005.85, -0.12), (2005.95, 0.12),
               (2006.05, 0.18), (2006.16, 0.06), (2006.29, 0.18), (2006.45, 0.35), (2006.57, 0.47), (2006.70, 0.29),
               (2006.82, 0.41), (2006.95, 0.53), (2007.07, 0.35), (2007.20, 0.23), (2007.32, 0.12), (2007.45, 0.35),
               (2007.57, 0.23), (2007.70, 0.06), (2007.79, 0.35), (2007.89, 0.74), (2007.98, 0.53), (2008.11, 0.18),
               (2008.23, 0.18), (2008.36, 0.06), (2008.48, -0.06), (2008.61, 0.00), (2008.70, -0.24), (2008.76, -0.84),
               (2008.81, -1.07), (2008.87, -0.84), (2008.92, -1.19), (2008.98, 0.47), (2009.03, 1.10), (2009.09, 0.77),
               (2009.15, 0.41), (2009.23, 0.29), (2009.33, 0.18), (2009.42, 0.35), (2009.51, 0.23), (2009.64, 0.41),
               (2009.77, 0.47), (2009.89, 0.41), (2010.02, 0.53), (2010.13, 0.68), (2010.20, 0.53), (2010.30, 0.41),
               (2010.36, 0.12), (2010.41, -0.90), (2010.49, -0.66), (2010.56, 0.12), (2010.64, 0.23), (2010.75, 0.18),
               (2010.86, 0.23), (2010.99, 0.12), (2011.11, 0.18), (2011.24, 0.06), (2011.36, 0.12), (2011.49, 0.00),
               (2011.61, -0.06), (2011.71, -0.60), (2011.80, -0.06), (2011.93, 0.00), (2012.05, 0.06), (2012.18, 0.23),
               (2012.30, 0.06), (2012.43, -0.18), (2012.52, -0.57), (2012.65, -0.12), (2012.77, 0.12), (2012.90, 0.00),
               (2013.02, 0.06), (2013.15, 0.12), (2013.27, 0.23), (2013.40, 0.00), (2013.52, 0.29), (2013.65, 0.12),
               (2013.77, -0.12), (2013.90, -0.06), (2014.02, -0.18), (2014.15, -0.12), (2014.27, 0.00), (2014.40, -0.06),
               (2014.52, 0.00), (2014.68, -0.06), (2014.84, -0.06), (2014.99, -0.06), (2015.12, -0.24), (2015.21, -0.48),
               (2015.31, -0.72), (2015.40, -0.36), (2015.53, 0.00), (2015.65, -0.06), (2015.78, -0.18), (2015.90, -0.06),
               (2016.03, 0.00), (2016.15, -0.18), (2016.28, 0.12), (2016.40, 0.18), (2016.53, 0.06), (2016.62, 0.35),
               (2016.72, 0.23), (2016.84, 0.00), (2016.97, -0.12), (2017.09, -0.18), (2017.22, -0.06), (2017.34, -0.12),
               (2017.47, -0.06), (2017.62, -0.18), (2017.75, 0.00), (2017.88, 0.12), (2018.00, -0.24), (2018.09, -0.60),
               (2018.16, -0.80), (2018.25, -0.54), (2018.35, -0.30), (2018.44, 0.12), (2018.56, -0.12), (2018.69, -0.06),
               (2018.82, 0.00), (2018.94, -0.12), (2019.03, -0.48), (2019.13, 0.00), (2019.22, 0.06), (2019.32, -0.12),
               (2019.41, -0.54), (2019.47, -0.24), (2019.55, -0.12), (2019.98, -0.20)]
uk_coes_three = [(2000.11, -0.84), (2000.15, -0.24), (2000.22, -0.18), (2000.31, -0.24), (2000.42, -0.18), (2000.53, -0.12),
                 (2000.65, -0.18), (2000.75, 0.23), (2000.81, -0.06), (2000.90, 0.35), (2000.97, 0.00), (2001.06, 0.12),
                 (2001.15, -0.24), (2001.25, -0.36), (2001.34, -0.12), (2001.44, -0.06), (2001.53, 0.23), (2001.62, 0.06),
                 (2001.72, -0.06), (2001.81, -0.24), (2001.94, -0.12), (2002.06, -0.18), (2002.19, -0.24), (2002.31, -0.18),
                 (2002.44, -0.24), (2002.56, 0.12), (2002.66, 0.44), (2002.72, 0.35), (2002.78, -0.12), (2002.88, -0.24),
                 (2003.00, -0.30), (2003.13, -0.18), (2003.22, 0.23), (2003.32, -0.18), (2003.44, -0.60), (2003.57, -0.54),
                 (2003.66, -0.72), (2003.78, -0.36), (2003.91, -0.18), (2004.04, -0.24), (2004.16, -0.42), (2004.29, -0.54),
                 (2004.41, -0.36), (2004.57, -0.24), (2004.69, 0.00), (2004.82, -0.12), (2004.94, -0.18), (2005.07, -0.30),
                 (2005.19, -0.18), (2005.32, -0.24), (2005.44, -0.12), (2005.57, -0.18), (2005.69, -0.30), (2005.82, -0.12),
                 (2005.95, -0.24), (2006.07, -0.42), (2006.16, -0.54), (2006.29, -0.24), (2006.41, -0.18), (2006.54, -0.30),
                 (2006.67, -0.18), (2006.79, -0.06), (2006.92, 0.17), (2006.98, 0.23), (2007.07, -0.06), (2007.20, -0.36),
                 (2007.32, -0.24), (2007.45, -0.18), (2007.57, -0.12), (2007.70, -0.18), (2007.82, -0.12), (2007.95, -0.06),
                 (2008.07, -0.18), (2008.20, -0.24), (2008.32, -0.18), (2008.45, 0.00), (2008.54, 0.06), (2008.64, 0.23),
                 (2008.70, -0.12), (2008.76, -0.84), (2008.81, -2.15), (2008.86, -1.91), (2008.89, -2.32), (2008.94, -1.43),
                 (2008.98, -0.24), (2009.08, -0.72), (2009.14, -0.24), (2009.26, -0.12), (2009.39, -0.06), (2009.51, 0.06),
                 (2009.64, -0.12), (2009.77, -0.06), (2009.89, 0.00), (2010.02, -0.06), (2010.14, -0.12), (2010.27, -0.06),
                 (2010.36, -0.30), (2010.42, -0.60), (2010.49, -0.12), (2010.61, -0.06), (2010.74, -0.12), (2010.86, -0.18),
                 (2010.99, -0.06), (2011.11, -0.12), (2011.24, -0.24), (2011.36, -0.18), (2011.49, -0.12), (2011.61, -0.24),
                 (2011.74, -0.12), (2011.86, -0.18), (2011.99, -0.12), (2012.11, -0.06), (2012.24, -0.12), (2012.36, -0.06),
                 (2012.49, -0.12), (2012.62, -0.09), (2012.74, 0.00), (2012.87, -0.06), (2013.00, -0.12), (2013.12, 0.00),
                 (2013.21, 0.23), (2013.30, 0.12), (2013.43, -0.06), (2013.55, 0.12), (2013.65, 0.29), (2013.74, -0.12),
                 (2013.87, -0.24), (2013.99, -0.18), (2014.12, -0.12), (2014.27, -0.06), (2014.43, -0.06), (2014.59, -0.09),
                 (2014.74, -0.12), (2014.90, -0.12), (2015.06, -0.18), (2015.21, -0.30), (2015.34, -0.18), (2015.46, -0.06),
                 (2015.59, -0.06), (2015.71, -0.12), (2015.84, -0.18), (2015.96, -0.12), (2016.09, -0.06), (2016.22, -0.18),
                 (2016.31, 0.12), (2016.43, -0.12), (2016.56, 0.23), (2016.62, 0.47), (2016.68, 0.56), (2016.75, 0.23),
                 (2016.84, -0.12), (2016.94, 0.17), (2017.03, -0.12), (2017.15, -0.24), (2017.28, -0.12), (2017.41, -0.24),
                 (2017.53, -0.30), (2017.66, -0.24), (2017.78, -0.18), (2017.91, -0.24), (2018.03, -0.30), (2018.16, -0.48),
                 (2018.25, -0.30), (2018.35, -0.18), (2018.47, -0.12), (2018.60, -0.24), (2018.72, -0.18), (2018.85, -0.21),
                 (2018.97, -0.27), (2019.10, -0.12), (2019.22, -0.06), (2019.35, -0.18), (2019.44, -0.12), (2019.55, -0.12),
                 (2019.98, -0.15)]

year_ticks = list(range(2002, 2019, 2))
panel_names = ['Europe', 'Japan', 'Brazil', 'UK']
panel_letters = ['A', 'B', 'C', 'D']

BLUE = '#22309c'
ORANGE = '#e98a12'

plt.rcParams['font.family'] = 'cmr10'
plt.rcParams['mathtext.fontset'] = 'cm'
plt.rcParams['axes.unicode_minus'] = False
plt.rcParams['axes.formatter.use_mathtext'] = True

W, H = 919, 1368
fig = plt.figure(figsize=(W / 100, H / 100), dpi=100)


def box(l, t, r, b):
    return [l / W, 1 - b / H, (r - l) / W, (b - t) / H]


def draw(rect, two, three, ylim, step, minor, coes, legend_loc, anchor):
    ax = fig.add_axes(rect)
    t2, v2 = np.array(two).T
    t3, v3 = np.array(three).T
    if coes:
        lab2 = r'Differences of $CoES_{p|s}$ for the two-asset portfolio'
        lab3 = r'Differences of $CoES_{p|s}$ for the three-asset portfolio'
    else:
        lab2 = r'Difference of $ES_p$ for the two-asset portfolio'
        lab3 = r'Difference of $ES_p$ for the three-asset portfolio'
    ax.plot(t2, v2, color=BLUE, lw=0.8, label=lab2)
    ax.plot(t3, v3, color=ORANGE, lw=0.8, label=lab3)
    ax.set_xlim(2000.1, 2020.0)
    ax.set_ylim(*ylim)
    ax.xaxis.set_major_locator(FixedLocator(year_ticks))
    ax.xaxis.set_major_formatter(FuncFormatter(lambda v, p: f'{v:.0f}'))
    ax.yaxis.set_major_locator(MultipleLocator(step))
    ax.yaxis.set_minor_locator(MultipleLocator(minor))
    ax.yaxis.set_major_formatter(FuncFormatter(lambda v, p: f'{v:g}' if abs(v) > 1e-9 else '0'))
    ax.grid(True, which='major', color='#dedede', lw=0.6)
    ax.grid(True, which='minor', axis='y', color='#f0f0f0', lw=0.5)
    ax.set_axisbelow(True)
    for s in ax.spines.values():
        s.set_color('#a8a8a8')
        s.set_linewidth(0.8)
    ax.tick_params(which='both', direction='in', length=3, width=0.6, color='#a8a8a8',
                   labelsize=7.7, labelcolor='#262626')
    ax.tick_params(axis='x', pad=6)
    ax.tick_params(axis='y', pad=3)
    ax.tick_params(which='minor', length=0)
    ax.set_xlabel('Date', fontsize=9.3, color='#262626', labelpad=5)
    if coes:
        ax.set_ylabel(r'$CoES_{vines}-CoES_{DCC}\ \ (\%)$', fontsize=11, color='#262626', labelpad=2)
        ax.set_title(r'Model risk assessment - CoES$_{p|s}$(0.1,0.1)', fontsize=9, pad=5)
    else:
        ax.set_ylabel(r'$ES_{vines}-ES_{DCC}\ \ (\%)$', fontsize=11, color='#262626', labelpad=2)
        ax.set_title('Model risk assessment - ES(0.1)', fontsize=9, pad=5)
    leg = ax.legend(loc=legend_loc, bbox_to_anchor=anchor, borderaxespad=0, fontsize=8.0,
                    frameon=True, fancybox=False, framealpha=1, edgecolor='#a8a8a8',
                    handlelength=1.3, handletextpad=0.15, borderpad=0.25, labelspacing=0.1)
    leg.get_frame().set_linewidth(0.8)
    return ax


# left column: ES, right column: CoES
draw(box(40, 52, 461, 305), eu_es_two, eu_es_three, (-3, 1), 1, 0.2, False, 'lower left', (0.39, 0.028))
draw(box(504, 41, 929, 293), eu_coes_two, eu_coes_three, (-3, 1), 1, 0.2, True, 'lower left', (0.336, 0.005))
draw(box(49, 396, 457, 650), jp_es_two, jp_es_three, (-2, 1.5), 0.5, 0.1, False, 'upper left', (0.412, 0.984))
draw(box(513, 383, 925, 639), jp_coes_two, jp_coes_three, (-2, 1.5), 0.5, 0.1, True, 'upper left', (0.322, 0.98))
draw(box(48, 736, 459, 988), br_es_two, br_es_three, (-1.5, 1), 0.5, 0.1, False, 'upper left', (0.411, 0.984))
draw(box(513, 726, 925, 981), br_coes_two, br_coes_three, (-1.5, 1), 0.5, 0.1, True, 'upper left', (0.322, 0.98))
draw(box(39, 1076, 459, 1328), uk_es_two, uk_es_three, (-2.5, 2), 1, 0.2, False, 'upper left', (0.412, 0.984))
draw(box(505, 1066, 929, 1318), uk_coes_two, uk_coes_three, (-2.5, 2), 1, 0.2, True, 'upper left', (0.332, 0.984))

# panel headings: bold "Panel X:" followed by the market name, centred over the left column
renderer = fig.canvas.get_renderer()
panel_y = [15, 358, 702, 1041]
for letter, name, y in zip(panel_letters, panel_names, panel_y):
    t1 = fig.text(0, 1 - y / H, f'Panel {letter}:', family='cmb10', fontsize=19, ha='left', va='center')
    t2 = fig.text(0, 1 - y / H, name, family='cmr10', fontsize=19, ha='left', va='center')
    w1 = t1.get_window_extent(renderer).width
    w2 = t2.get_window_extent(renderer).width
    gap = 7
    x0 = 240 - (w1 + gap + w2) / 2
    t1.set_x(x0 / W)
    t2.set_x((x0 + w1 + gap) / W)

fig.savefig('out.png', dpi=100)
